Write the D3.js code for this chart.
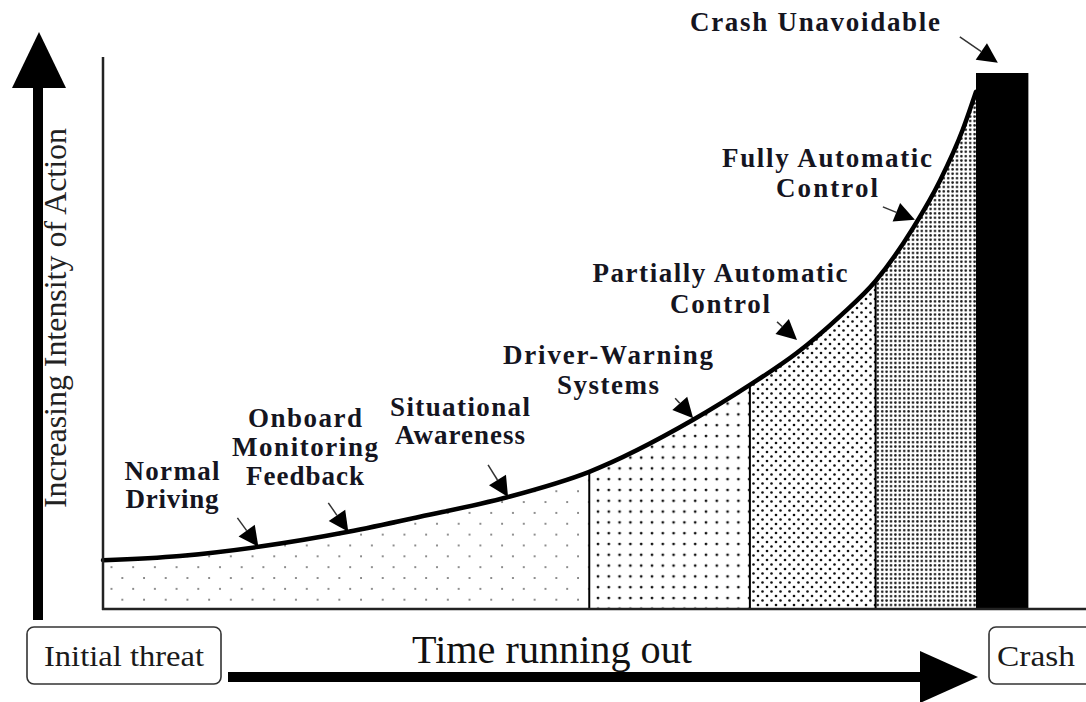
<!DOCTYPE html>
<html><head><meta charset="utf-8">
<script src="https://cdn.jsdelivr.net/npm/d3@7"></script>
<style>html,body{margin:0;padding:0;background:#fff}svg{display:block}
text{font-family:"Liberation Serif","Times New Roman",Times,serif}</style>
</head><body>
<svg id="c" width="1086" height="702"></svg>
<script>
// ---------- data ----------
const timePoints = [0, 8.8, 17.8, 28.1, 36.3, 46.4, 55.7, 67.6, 74.1, 79.5, 84.4, 88.5, 92.8, 95.9, 98.5, 100];
const intensity  = [9.1, 9.9, 11.6, 14.4, 17.2, 20.9, 25.6, 35.3, 41.8, 47.8, 54.6, 61.2, 71.1, 80.0, 89.5, 96.5];
const zoneBounds = [0, 55.7, 74.1, 88.5, 100];
const zoneNames  = ["Awareness", "Warning", "Partial control", "Full control"];
const crashStart = 100, crashEnd = 106, crashIntensity = 100;
const phaseLabels = [["Normal", "Driving"], ["Onboard", "Monitoring", "Feedback"], ["Situational", "Awareness"],
  ["Driver-Warning", "Systems"], ["Partially Automatic", "Control"], ["Fully Automatic", "Control"], ["Crash Unavoidable"]];
const phaseTipTime = [17.8, 28.1, 46.4, 67.6, 79.5, 93.0, 102.5];
const phaseTipIntensity = [11.6, 14.4, 20.9, 35.6, 50.2, 72.6, 101.9];
const yAxisTitle = "Increasing Intensity of Action";
const xAxisTitle = "Time running out";
const startLabel = "Initial threat";
const endLabel = "Crash";

// ---------- layout ----------
const labelCx = [172, 305, 460, 608, 720, 827, 815];
const labelY0 = [480, 427, 416, 364, 282, 167, 31];
const labelGap = [28, 29, 28, 30, 31, 30, 0];
const labelW = [[95, 93], [114, 146, 118], [140, 130], [210, 102], [255, 100], [210, 102], [250]];
const tailOff = [[-21, -29], [-20, -29], [-20, -32], [-18, -20], [-20, -18], [-32, -13], [-38, -26]];

const svg = d3.select("#c");
const x = d3.scaleLinear().domain([0, 100]).range([103, 976]);
const y = d3.scaleLinear().domain([0, 100]).range([609, 73]);
const pts = timePoints.map((t, i) => [t, intensity[i]]);

const defs = svg.append("defs");
function pat(id, w, h, dots, r, fill) {
  const p = defs.append("pattern").attr("id", id).attr("patternUnits", "userSpaceOnUse")
    .attr("width", w).attr("height", h);
  p.append("rect").attr("width", w).attr("height", h).attr("fill", "#fff");
  dots.forEach(d => p.append("circle").attr("cx", d[0]).attr("cy", d[1]).attr("r", r).attr("fill", fill));
}
pat("p0", 21.7, 21.7, [[3, 3], [13.85, 13.85]], 1.0, "#6e6e6e");
pat("p1", 10.8, 10.8, [[4, 4]], 1.4, "#111");
pat("p2", 9, 9, [[2, 2], [6.5, 6.5]], 1.3, "#111");
pat("p3", 4.4, 4.4, [[2.2, 2.2]], 1.3, "#1a1a1a");

const area = d3.area().x(d => x(d[0])).y0(y(0)).y1(d => y(d[1])).curve(d3.curveMonotoneX);
const line = d3.line().x(d => x(d[0])).y(d => y(d[1])).curve(d3.curveMonotoneX);

defs.append("clipPath").attr("id", "under").append("path").attr("d", area(pts));
zoneBounds.slice(0, -1).forEach((b, i) => {
  defs.append("clipPath").attr("id", "z" + i).append("rect")
    .attr("x", x(b)).attr("y", 0).attr("width", x(zoneBounds[i + 1]) - x(b)).attr("height", 702);
});

// zones
const zg = svg.append("g").attr("clip-path", "url(#under)");
zoneNames.forEach((n, i) => {
  zg.append("path").attr("d", area(pts)).attr("fill", `url(#p${i})`).attr("clip-path", `url(#z${i})`);
});
zg.selectAll("line.sep").data(zoneBounds.slice(1, -1)).join("line")
  .attr("x1", d => x(d)).attr("x2", d => x(d)).attr("y1", y(0)).attr("y2", y(100))
  .attr("stroke", "#000").attr("stroke-width", 2);

// crash bar
svg.append("rect").attr("x", x(crashStart)).attr("y", y(crashIntensity))
  .attr("width", x(crashEnd) - x(crashStart)).attr("height", y(0) - y(crashIntensity)).attr("fill", "#000");

// curve
svg.append("path").attr("d", line(pts)).attr("fill", "none").attr("stroke", "#000")
  .attr("stroke-width", 4.5).attr("stroke-linecap", "round");

// axes lines
svg.append("line").attr("x1", 103).attr("x2", 103).attr("y1", 57).attr("y2", y(0) + 1)
  .attr("stroke", "#222").attr("stroke-width", 2.5);
svg.append("line").attr("x1", 102).attr("x2", 1086).attr("y1", y(0)).attr("y2", y(0))
  .attr("stroke", "#222").attr("stroke-width", 2.5);

// big y arrow
svg.append("rect").attr("x", 33).attr("y", 80).attr("width", 10).attr("height", 540).attr("fill", "#000");
svg.append("path").attr("d", "M39,32 L66,88 L12,88 Z").attr("fill", "#000");

// y title
svg.append("text").attr("transform", "translate(66,318) rotate(-90)")
  .attr("text-anchor", "middle").attr("font-size", 31)
  .attr("fill", "#222").attr("textLength", 380).attr("lengthAdjust", "spacingAndGlyphs").text(yAxisTitle);

// time arrow
svg.append("rect").attr("x", 228).attr("y", 672).attr("width", 700).attr("height", 10).attr("fill", "#000");
svg.append("path").attr("d", "M920,651 L978,677 L920,703 Z").attr("fill", "#000");
svg.append("text").attr("x", 552).attr("y", 663).attr("text-anchor", "middle")
  .attr("font-size", 40).attr("fill", "#111")
  .attr("textLength", 280).attr("lengthAdjust", "spacingAndGlyphs").text(xAxisTitle);

// boxes
svg.append("rect").attr("x", 27).attr("y", 627).attr("width", 194).attr("height", 57).attr("rx", 7)
  .attr("fill", "#fff").attr("stroke", "#333").attr("stroke-width", 1.6);
svg.append("text").attr("x", 124).attr("y", 666).attr("text-anchor", "middle")
  .attr("font-size", 29).attr("fill", "#1a1a1a")
  .attr("textLength", 160).attr("lengthAdjust", "spacingAndGlyphs").text(startLabel);
svg.append("rect").attr("x", 989).attr("y", 627).attr("width", 130).attr("height", 57).attr("rx", 7)
  .attr("fill", "#fff").attr("stroke", "#333").attr("stroke-width", 1.6);
svg.append("text").attr("x", 997).attr("y", 666)
  .attr("font-size", 29).attr("fill", "#1a1a1a")
  .attr("textLength", 78).attr("lengthAdjust", "spacingAndGlyphs").text(endLabel);

// phase labels + arrows
phaseLabels.forEach((lines, i) => {
  lines.forEach((s, j) => {
    svg.append("text").attr("x", labelCx[i]).attr("y", labelY0[i] + j * labelGap[i])
      .attr("text-anchor", "middle").attr("font-weight", "bold")
      .attr("font-size", 27).attr("fill", "#15151f")
      .attr("textLength", labelW[i][j]).attr("lengthAdjust", "spacing").text(s);
  });
  const tx = x(phaseTipTime[i]), ty = y(phaseTipIntensity[i]);
  const sx = tx + tailOff[i][0], sy = ty + tailOff[i][1];
  const dx = tx - sx, dy = ty - sy, L = Math.hypot(dx, dy), ux = dx / L, uy = dy / L;
  const hl = 20, hw = 10;
  const bx = tx - ux * hl, by = ty - uy * hl;
  svg.append("line").attr("x1", sx).attr("y1", sy).attr("x2", bx).attr("y2", by)
    .attr("stroke", "#333").attr("stroke-width", 1.5);
  svg.append("path").attr("d", `M${tx},${ty} L${bx - uy * hw},${by + ux * hw} L${bx + uy * hw},${by - ux * hw} Z`)
    .attr("fill", "#000");
});
</script>
</body></html>
